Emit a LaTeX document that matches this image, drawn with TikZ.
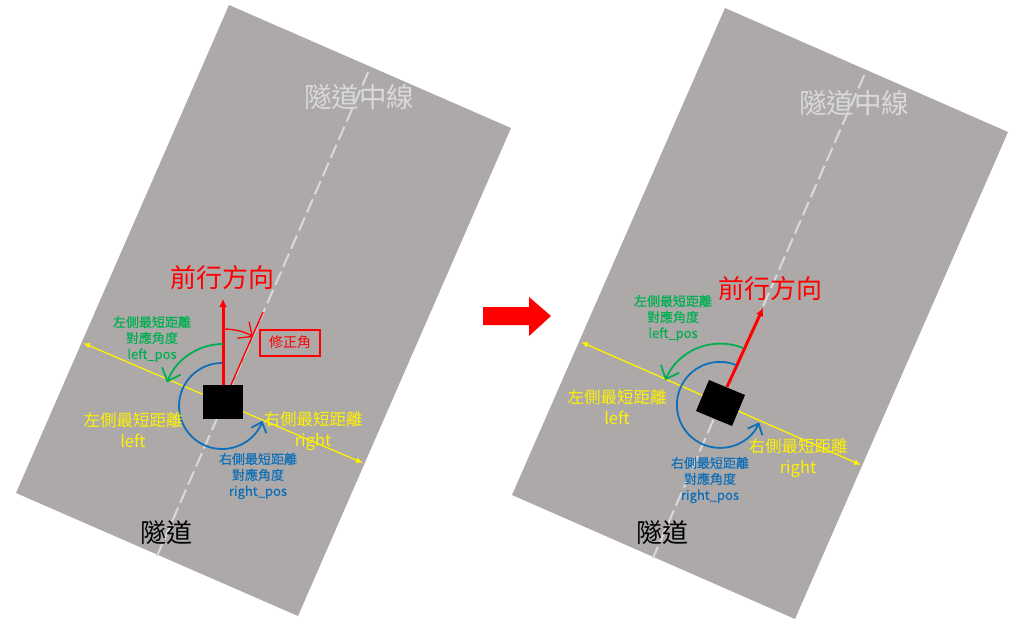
\documentclass[tikz,border=0pt]{standalone}
\usepackage{fontspec}
\setmainfont{Noto Sans CJK TC}
\newfontfamily\smallheavy[FakeBold=0.35]{Noto Sans CJK TC}
\usetikzlibrary{arrows.meta}
\definecolor{roadgray}{HTML}{ADA9A9}
\definecolor{linegray}{HTML}{D9D9D9}
\definecolor{greenc}{HTML}{00B050}
\definecolor{bluec}{HTML}{0F70B8}
\tikzset{
  x=1pt,y=-1pt,
  road/.style={fill=roadgray,draw=none},
  centerline/.style={draw=linegray,line width=2pt,dash pattern=on 14.5pt off 5.3pt,dash phase=15.3pt},
  car/.style={fill=black,draw=none},
  yellowline/.style={draw=yellow,line width=1.3pt,{Latex[length=7pt,width=6pt]}-{Latex[length=7pt,width=6pt]}},
  headarrow/.style={draw=red,line width=3pt,-{Latex[length=8pt,width=8pt]}},
  thinred/.style={draw=red,line width=1.4pt},
  redarc/.style={draw=red,line width=1.3pt,-{Straight Barb[length=11pt,width=20pt]}},
  greenarc/.style={draw=greenc,line width=1.8pt,-{Straight Barb[length=11pt,width=20pt]}},
  bluearc/.style={draw=bluec,line width=1.8pt,-{Straight Barb[length=9pt,width=16pt]}},
  bigtext/.style={inner sep=0pt,font=\fontsize{26}{26}\selectfont},
  redtext/.style={bigtext,text=red},
  graytext/.style={inner sep=0pt,text=linegray,font=\fontsize{27.5}{27.5}\selectfont},
  tunneltext/.style={bigtext,text=black},
  yellowtext/.style={inner sep=0pt,align=center,text=yellow,font=\fontsize{16.5}{21}\selectfont},
  greentext/.style={inner sep=0pt,align=center,text=greenc,font=\fontsize{13}{16}\smallheavy},
  bluetext/.style={inner sep=0pt,align=center,text=bluec,font=\fontsize{13}{16}\smallheavy},
  fixbox/.style={draw=red,line width=2pt,text=red,minimum width=60pt,minimum height=26pt,inner sep=0pt,font=\fontsize{14}{14}\selectfont},
  bigarrow/.style={fill=red,draw=none},
}
\begin{document}
\begin{tikzpicture}
\useasboundingbox (0,0) rectangle (1024,632);
\fill[white] (0,0) rectangle (1024,632);
% ---------- left
\fill[road] (229,5) -- (511,128) -- (298,616) -- (16,493) -- cycle;
\coordinate (lcA) at (370,68);
\coordinate (lcB) at (157,556);
\draw[centerline] (lcA) -- (lcB);
\coordinate (lyA) at (83,343);
\coordinate (lyB) at (363,463);
\draw[yellowline] (lyA) -- (lyB);
\node[car,minimum width=40pt,minimum height=34pt,inner sep=0pt] (lcar) at (223,402) {};
\coordinate (lredS) at (223,385);
\coordinate (lredT) at (223,299);
\draw[headarrow] (lredS) -- (lredT);
\coordinate (lfixS) at (231,385);
\coordinate (lfixT) at (263,312);
\draw[thinred] (lfixS) -- (lfixT);
\draw[redarc] (223,329) .. controls (235,329) and (246,332) .. (253,337);
\draw[greenarc] (223,344) arc[start angle=-90,end angle=-159,radius=60];
\draw[bluearc] (222,363) arc[start angle=-90,end angle=-340,radius=43];
\node[fixbox] (lfix) at (290,342.5) {修正角};
\node[redtext] (lhead) at (222,278) {前行方向};
\node[graytext] (lmid) at (359,97) {隧道中線};
\node[tunneltext] (ltun) at (166,533) {隧道};
\node[greentext] (lgreen) at (152,339) {左側最短距離\\對應角度\\left\_pos};
\node[bluetext] (lblue) at (258,476) {右側最短距離\\對應角度\\right\_pos};
\node[yellowtext] (lyl) at (133,430) {左側最短距離\\left};
\node[yellowtext] (lyr) at (313,431) {右側最短距離\\right};
% ---------- arrow
\fill[bigarrow] (483,307) -- (529,307) -- (529,297) -- (551,316) -- (529,336) -- (529,325) -- (483,325) -- cycle;
% ---------- right
\fill[road] (725,8) -- (1008,132) -- (795,619) -- (512,495) -- cycle;
\coordinate (rcA) at (866,71);
\coordinate (rcB) at (653,558);
\draw[centerline] (rcA) -- (rcB);
\coordinate (ryA) at (581,342);
\coordinate (ryB) at (861,465);
\draw[yellowline] (ryA) -- (ryB);
\fill[car] (709,380) -- (745,395) -- (732,426) -- (696,411) -- cycle;
\coordinate (rredS) at (727,387);
\coordinate (rredT) at (763,308);
\draw[headarrow] (rredS) -- (rredT);
\draw[greenarc] (743,348) arc[start angle=-68,end angle=-157,radius=60];
\draw[bluearc] (736,365) arc[start angle=-68,end angle=-336,radius=43];
\node[redtext] (rhead) at (770,289) {前行方向};
\node[graytext] (rmid) at (854,103) {隧道中線};
\node[tunneltext] (rtun) at (662,533) {隧道};
\node[greentext] (rgreen) at (673,318) {左側最短距離\\對應角度\\left\_pos};
\node[bluetext] (rblue) at (710,480) {右側最短距離\\對應角度\\right\_pos};
\node[yellowtext] (ryl) at (617,407) {左側最短距離\\left};
\node[yellowtext] (ryr) at (798,458) {右側最短距離\\right};
\end{tikzpicture}
\end{document}
